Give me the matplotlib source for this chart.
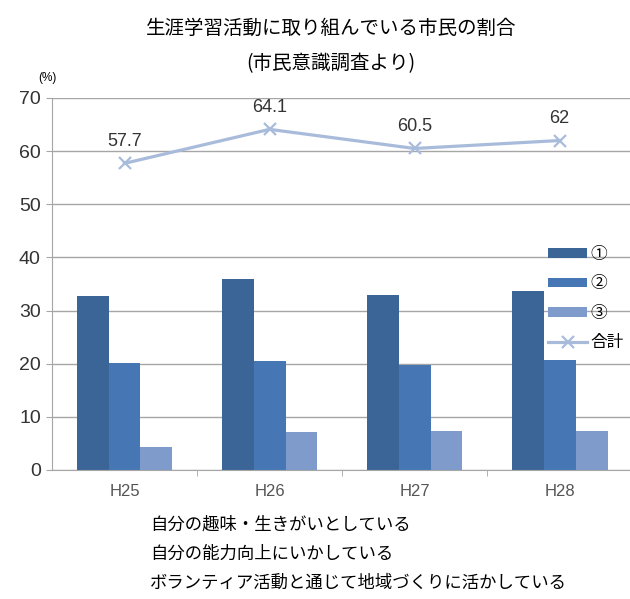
"""Share of citizens engaged in lifelong learning (citizen survey), H25-H28."""

import matplotlib

matplotlib.use("Agg")
import matplotlib.pyplot as plt
import numpy as np

years = ["H25", "H26", "H27", "H28"]
hobby = [32.7, 36.0, 32.9, 33.7]        # ① 自分の趣味・生きがいとしている
ability = [20.2, 20.5, 19.8, 20.7]      # ② 自分の能力向上にいかしている
volunteer = [4.3, 7.2, 7.3, 7.3]        # ③ ボランティア活動と通じて地域づくりに活かしている
total = [57.7, 64.1, 60.5, 62.0]        # 合計
series_names = ["①", "②", "③", "合計"]
descriptions = [
    "自分の趣味・生きがいとしている",
    "自分の能力向上にいかしている",
    "ボランティア活動と通じて地域づくりに活かしている",
]

JP = ["Noto Sans CJK JP", "DejaVu Sans"]
NUM = ["Liberation Sans", "Noto Sans CJK JP"]

fig = plt.figure(figsize=(6.30, 5.99), dpi=100)
ax = fig.add_axes([0.0825, 0.2154, 0.921, 0.621])

x = np.arange(len(years))
w = 0.22
colors = ["#3B6497", "#4677B4", "#7F9BCB"]
handles = []
for i, (vals, c) in enumerate(zip([hobby, ability, volunteer], colors)):
    handles.append(ax.bar(x + (i - 1) * w, vals, width=w, color=c,
                          label=series_names[i], zorder=2))

line, = ax.plot(x, total, color="#A9BBDB", lw=2.3, marker="x", ms=9, mew=1.6,
                label=series_names[3], zorder=3)
handles.append(line)
for xi, v in zip(x, total):
    ax.annotate(f"{v:g}", (xi, v), xytext=(0, 16), textcoords="offset points",
                ha="center", va="center", fontsize=13, color="#333333", family=NUM)

ax.set_xlim(-0.5, 3.5)
ax.set_ylim(0, 70)
ax.set_yticks(range(0, 71, 10))
ax.yaxis.grid(True, color="#A6A6A6", lw=1, zorder=0)
ax.set_axisbelow(True)
for s in ["top", "right"]:
    ax.spines[s].set_visible(False)
for s in ["left", "bottom"]:
    ax.spines[s].set_color("#A6A6A6")
ax.set_xticks(x)
ax.set_xticklabels(years, fontsize=12, color="#555555", family=NUM)
ax.set_xticks(x[:-1] + 0.5, minor=True)
ax.tick_params(axis="x", which="major", length=0, pad=10)
ax.tick_params(axis="x", which="minor", length=4, color="#A6A6A6")
ax.tick_params(axis="y", length=4, color="#A6A6A6", labelsize=14, labelcolor="#333333", pad=4)
for lab in ax.get_yticklabels():
    lab.set_family(NUM)

fig.text(0.075, 0.87, "(%)", fontsize=8.5, family=NUM, ha="center", va="center")
fig.text(0.525, 0.952, "生涯学習活動に取り組んでいる市民の割合", fontsize=14,
         family=JP, ha="center", va="center")
fig.text(0.525, 0.893, "(市民意識調査より)", fontsize=14, family=JP, ha="center", va="center")

leg = ax.legend(handles=handles, labels=series_names, loc="upper left",
                bbox_to_anchor=(0.86, 0.601), bbox_transform=fig.transFigure,
                frameon=False, handlelength=2.3, handleheight=0.5, handletextpad=0.2,
                labelspacing=0.75, borderaxespad=0, prop={"family": JP, "size": 12})

for i, t in enumerate(descriptions):
    fig.text(0.238, 0.125 - i * 0.049, t, fontsize=12.5, family=JP, ha="left", va="center")

fig.savefig("out.png", dpi=100)
